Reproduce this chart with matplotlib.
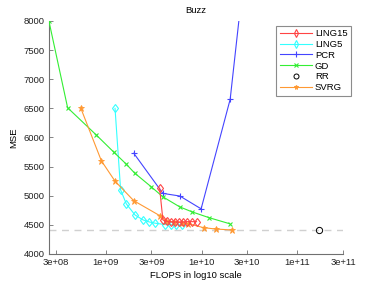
import matplotlib
matplotlib.use('Agg')
import matplotlib.pyplot as plt

# data (FLOPS, MSE)
ling15_x = [3.65e9, 3.95e9, 4.32e9, 4.75e9, 5.24e9, 5.76e9, 6.34e9, 6.98e9, 7.87e9, 8.87e9]
ling15_y = [5130, 4585, 4560, 4550, 4550, 4550, 4550, 4555, 4555, 4555]

ling5_x = [1.25e9, 1.43e9, 1.64e9, 2.02e9, 2.45e9, 2.85e9, 3.24e9, 4.17e9, 4.75e9, 5.44e9, 6.3e9]
ling5_y = [6500, 5100, 4860, 4670, 4585, 4550, 4530, 4505, 4505, 4500, 4500]

pcr_x = [1.96e9, 3.95e9, 5.94e9, 9.9e9, 1.99e10, 3.0e10]
pcr_y = [5730, 5040, 4995, 4775, 6655, 9300]

gd_x = [2.55e8, 4.0e8, 8.0e8, 1.21e9, 1.62e9, 2.0e9, 3.0e9, 3.96e9, 5.9e9, 7.9e9, 1.19e10, 1.96e10]
gd_y = [8000, 6510, 6040, 5750, 5550, 5390, 5150, 4980, 4810, 4725, 4625, 4520]

rr_x = [1.7e11]
rr_y = [4417]

svrg_x = [5.5e8, 9.0e8, 1.25e9, 1.96e9, 3.72e9, 4.3e9, 5.2e9, 6.2e9, 7.3e9, 1.05e10, 1.4e10, 2.09e10]
svrg_y = [6500, 5600, 5250, 4915, 4652, 4565, 4550, 4540, 4520, 4452, 4429, 4412]

xticks = [3e8, 1e9, 3e9, 1e10, 3e10, 1e11, 3e11]
xtick_labels = ['3e+08', '1e+09', '3e+09', '1e+10', '3e+10', '1e+11', '3e+11']
yticks = [4000, 4500, 5000, 5500, 6000, 6500, 7000, 7500, 8000]

plt.rcParams['font.family'] = ['Liberation Sans', 'DejaVu Sans']
plt.rcParams['font.size'] = 6.8

fig = plt.figure(figsize=(3.82, 2.87), dpi=100)
ax = fig.add_axes([0.128, 0.115, 0.77, 0.812])

lw = 0.8
ax.axhline(rr_y[0], color='#d0d0d0', lw=1.0, ls=(0, (5, 4)), zorder=1)
ax.plot(ling15_x, ling15_y, color='#ff4444', lw=lw, marker='d', ms=4.5, mfc='none', mew=0.8, label='LING15', zorder=5)
ax.plot(ling5_x, ling5_y, color='#33ffff', lw=lw, marker='d', ms=4.5, mfc='none', mew=0.8, label='LING5', zorder=3)
ax.plot(pcr_x, pcr_y, color='#4444ff', lw=lw, marker='+', ms=5, mew=0.8, label='PCR', zorder=3)
ax.plot(gd_x, gd_y, color='#33ee33', lw=lw, marker='x', ms=3.5, mew=0.8, label='GD', zorder=3)
ax.plot(rr_x, rr_y, color='black', lw=0, marker='o', ms=4.5, mfc='none', mew=0.7, label='RR', zorder=4)
ax.plot(svrg_x, svrg_y, color='#ff9933', lw=lw, marker='*', ms=4.5, mew=0.6, label='SVRG', zorder=4)

ax.set_xscale('log')
ax.set_xlim(2.55e8, 3.0e11)
ax.set_ylim(4000, 8000)
ax.set_xticks(xticks)
ax.set_xticklabels(xtick_labels)
ax.minorticks_off()
ax.set_yticks(yticks)

for s in ['top', 'right']:
    ax.spines[s].set_visible(False)
for s in ['left', 'bottom']:
    ax.spines[s].set_color('#707070')
    ax.spines[s].set_linewidth(0.8)
ax.tick_params(direction='in', length=3, width=0.6, color='#707070', labelcolor='#222222', pad=3)

ax.set_title('Buzz', fontsize=6.8, pad=6)
ax.set_xlabel('FLOPS in log10 scale', fontsize=6.8, labelpad=3)
ax.set_ylabel('MSE', fontsize=6.8, labelpad=4)

leg = ax.legend(loc='upper left', bbox_to_anchor=(0.773, 0.98), fontsize=6.8,
                frameon=True, fancybox=False, edgecolor='#707070', handlelength=3.4,
                handletextpad=0.35, labelspacing=0.2, borderpad=0.35, borderaxespad=0,
                markerscale=0.8)
leg.get_frame().set_linewidth(0.8)

fig.savefig('out.png', dpi=100)
